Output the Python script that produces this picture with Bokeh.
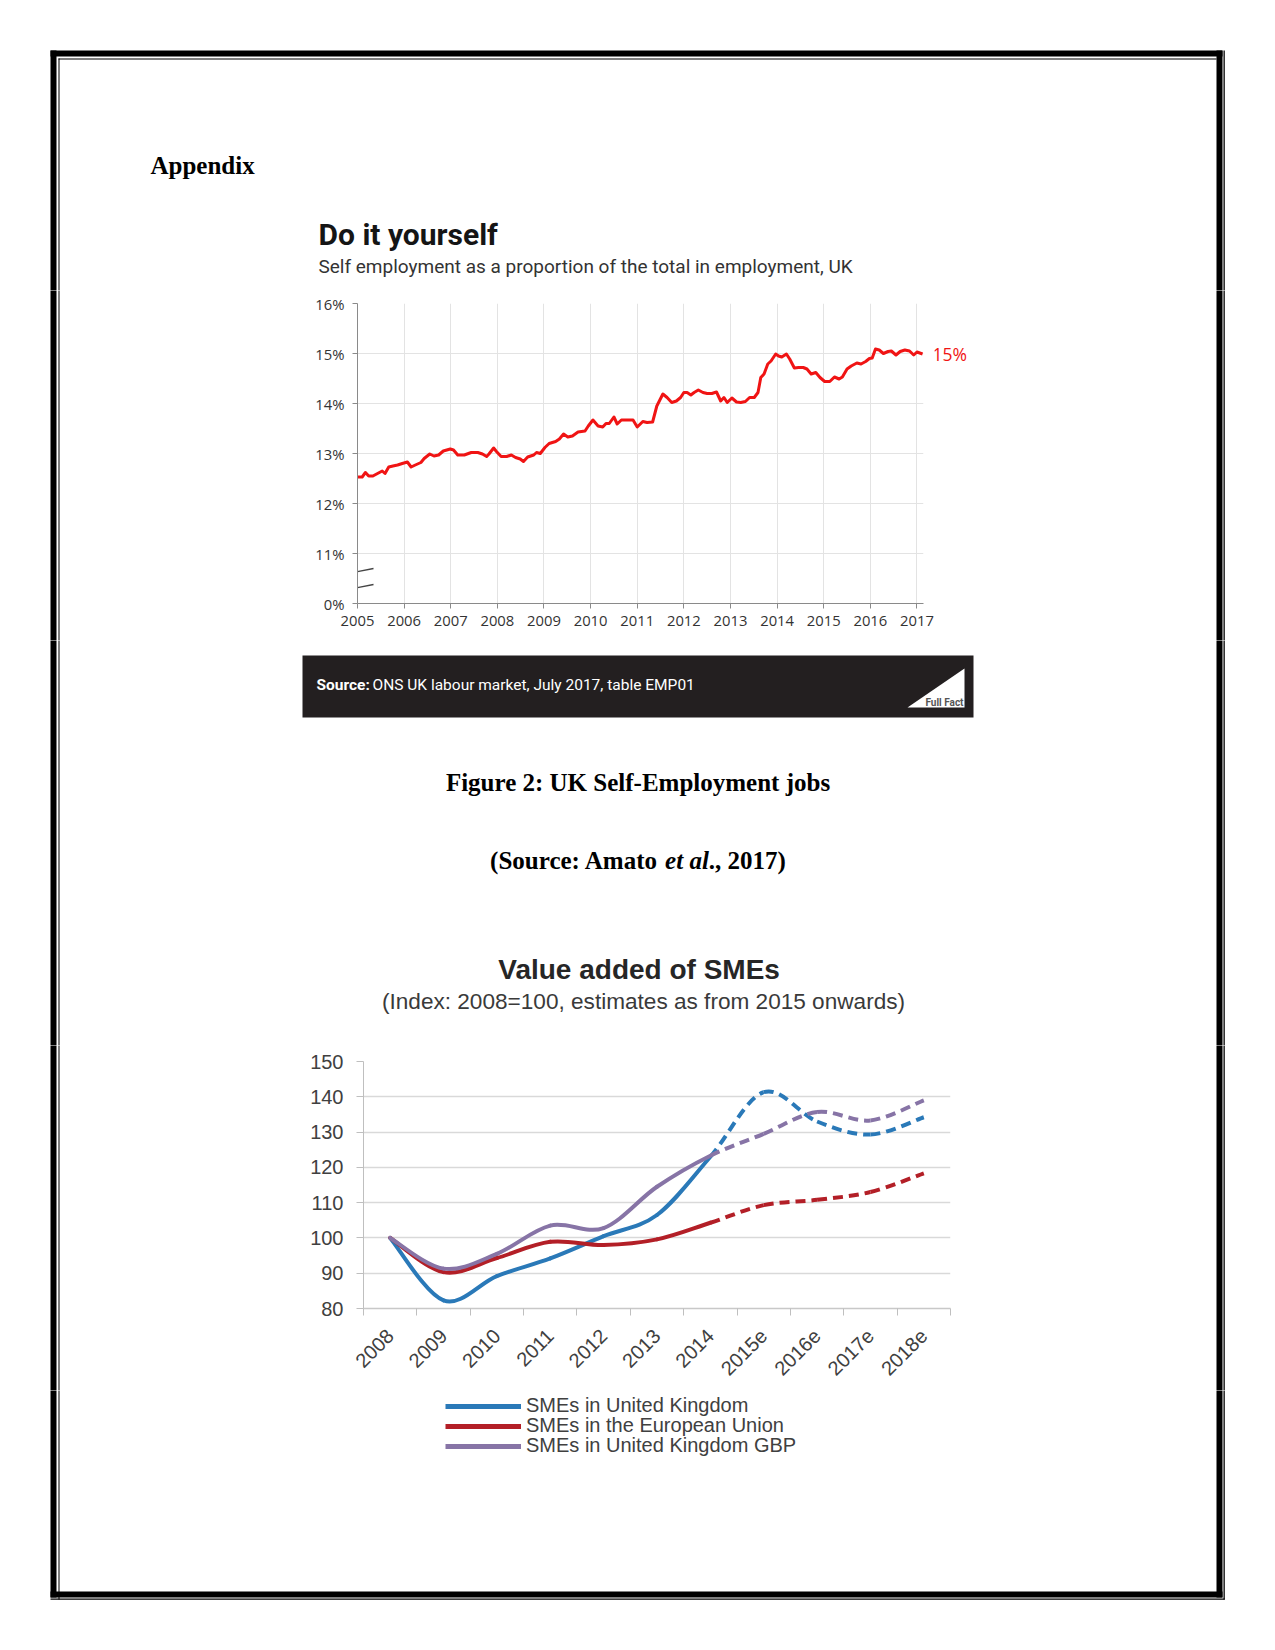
import math
from bokeh.plotting import figure
from bokeh.models import Range1d, FixedTicker, Legend, LegendItem
from bokeh.core.properties import value
from bokeh.layouts import column, row
from bokeh.embed import file_html
from bokeh.resources import INLINE

# ---------------- Chart 1 data: self employment share (%), UK ----------------
se_year = [2005.00, 2005.10, 2005.17, 2005.24, 2005.33, 2005.43, 2005.53, 2005.59, 2005.67, 2005.76,
           2005.86, 2005.96, 2006.07, 2006.15, 2006.24, 2006.36, 2006.43, 2006.55, 2006.64, 2006.74,
           2006.84, 2006.99, 2007.06, 2007.15, 2007.29, 2007.44, 2007.58, 2007.68, 2007.77, 2007.82,
           2007.92, 2007.98, 2008.08, 2008.20, 2008.30, 2008.39, 2008.49, 2008.56, 2008.65, 2008.78,
           2008.84, 2008.92, 2009.02, 2009.11, 2009.25, 2009.33, 2009.42, 2009.51, 2009.61, 2009.73,
           2009.88, 2009.95, 2010.05, 2010.16, 2010.26, 2010.33, 2010.40, 2010.50, 2010.57, 2010.66,
           2010.78, 2010.91, 2011.00, 2011.12, 2011.21, 2011.33, 2011.42, 2011.55, 2011.64, 2011.74,
           2011.84, 2011.93, 2012.00, 2012.07, 2012.15, 2012.22, 2012.31, 2012.41, 2012.50, 2012.60,
           2012.70, 2012.79, 2012.86, 2012.93, 2013.03, 2013.13, 2013.22, 2013.32, 2013.41, 2013.51,
           2013.59, 2013.65, 2013.72, 2013.80, 2013.87, 2013.97, 2014.03, 2014.10, 2014.20, 2014.27,
           2014.37, 2014.46, 2014.56, 2014.64, 2014.73, 2014.83, 2014.92, 2015.02, 2015.13, 2015.23,
           2015.33, 2015.40, 2015.50, 2015.59, 2015.71, 2015.80, 2015.90, 2015.98, 2016.04, 2016.11,
           2016.19, 2016.28, 2016.38, 2016.45, 2016.55, 2016.64, 2016.74, 2016.84, 2016.93, 2017.00,
           2017.12]
se_share = [12.53, 12.53, 12.62, 12.55, 12.55, 12.60, 12.65, 12.60, 12.73, 12.75,
            12.77, 12.80, 12.83, 12.73, 12.77, 12.82, 12.90, 12.99, 12.95, 12.97,
            13.05, 13.09, 13.07, 12.97, 12.97, 13.02, 13.02, 12.99, 12.94, 12.99,
            13.11, 13.04, 12.94, 12.94, 12.97, 12.92, 12.89, 12.84, 12.93, 12.97,
            13.02, 13.00, 13.12, 13.20, 13.24, 13.29, 13.39, 13.33, 13.35, 13.43,
            13.45, 13.55, 13.67, 13.55, 13.53, 13.60, 13.60, 13.73, 13.59, 13.67,
            13.67, 13.67, 13.53, 13.64, 13.62, 13.63, 13.95, 14.19, 14.12, 14.02,
            14.05, 14.12, 14.22, 14.22, 14.17, 14.22, 14.27, 14.22, 14.20, 14.20,
            14.23, 14.05, 14.12, 14.02, 14.11, 14.03, 14.02, 14.04, 14.12, 14.12,
            14.22, 14.52, 14.59, 14.79, 14.85, 14.99, 14.95, 14.93, 14.99, 14.89,
            14.71, 14.72, 14.72, 14.69, 14.59, 14.62, 14.52, 14.44, 14.44, 14.53,
            14.49, 14.53, 14.69, 14.75, 14.81, 14.79, 14.84, 14.90, 14.91, 15.09,
            15.07, 15.00, 15.04, 15.05, 14.97, 15.04, 15.07, 15.05, 14.97, 15.03,
            14.99]
c1_years = list(range(2005, 2018))
c1_pct_ticks = [10, 11, 12, 13, 14, 15, 16]
c1_pct_labels = ["0%", "11%", "12%", "13%", "14%", "15%", "16%"]

# ---------------- Chart 2 data: value added of SMEs (index 2008=100) ----------------
c2_categories = ["2008", "2009", "2010", "2011", "2012", "2013", "2014",
                 "2015e", "2016e", "2017e", "2018e"]
uk_index = [100, 82.3, 89.2, 94.2, 100.5, 106.5, 123.0, 141.3, 133.0, 129.3, 134.2]
eu_index = [100, 90.3, 94.3, 98.9, 98.0, 99.6, 104.3, 109.3, 110.8, 113.0, 118.3]
gbp_index = [100, 91.3, 95.5, 103.5, 102.8, 114.5, 123.3, 129.5, 135.7, 133.3, 139.0]
c2_series_names = ["SMEs in United Kingdom", "SMEs in the European Union",
                   "SMEs in United Kingdom GBP"]
c2_ticks = [80, 90, 100, 110, 120, 130, 140, 150]
c2_solid_last = 6   # 2014: last observed year, estimates after

# ---------------- page geometry helpers (page pixels) ----------------
X0, X1 = 2005, 2017.14          # chart 1 x range
NC = len(c2_categories)


def ident(v):
    return v


def c1x(px):
    return X0 + (px - 357) * (X1 - X0) / 566.0


def c1y(py):
    return 10 + (603 - py) * 6.0 / 300.0


BORDER = [(50, 50, 1222, 56), (50, 50, 56, 1597), (1216, 50, 1222, 1597), (50, 1591, 1222, 1597),
          (58, 58, 1216, 59), (58, 58, 59, 1599), (1223, 50, 1224.3, 1599), (50, 1598, 1224.3, 1599.2)]


def deco(px0, px1, py0, py1, xmap=ident, ymap=ident):
    p = figure(width=int(px1 - px0), height=int(py1 - py0),
               x_range=Range1d(xmap(px0), xmap(px1)), y_range=Range1d(ymap(py1), ymap(py0)),
               x_axis_type=None, y_axis_type=None, output_backend="svg", toolbar_location=None,
               min_border=0, min_border_left=0, min_border_right=0, min_border_top=0,
               min_border_bottom=0, frame_align=False)
    p.outline_line_color = None
    p.background_fill_color = "white"
    p.border_fill_color = "white"
    p.xgrid.visible = False
    p.ygrid.visible = False
    bl = [xmap(b[0]) for b in BORDER]
    bt = [ymap(b[1]) for b in BORDER]
    br = [xmap(b[2]) for b in BORDER]
    bb = [ymap(b[3]) for b in BORDER]
    p.quad(left=bl, right=br, top=bt, bottom=bb, fill_color="black", line_color=None)
    return p


def dtext(p, x, y, text, font, size, style="normal", color="black", align="left",
          baseline="alphabetic", x_offset=0):
    p.text(x=[x], y=[y], text=[text], text_font=value(font), text_font_size=value(size),
           text_font_style=value(style), text_color=color, text_align=value(align),
           text_baseline=value(baseline), x_offset=x_offset)


# ====================== top strip (page y 0..290) ======================
top = deco(0, 1267, 0, 290)
dtext(top, 150, 165, "Appendix", "Liberation Serif", "25px", "bold", baseline="middle")
dtext(top, 318, 233.5, "Do it yourself", "Roboto", "30px", "bold", "#151515", baseline="middle")
dtext(top, 318, 266, "Self employment as a proportion of the total in employment, UK",
      "Roboto", "19px", "normal", "#333333", baseline="middle")

# ====================== row 1: chart 1 (page y 290..640) ======================
left1 = deco(0, 300, 290, 640)
p1 = figure(width=634, height=350, x_range=Range1d(X0, X1), y_range=Range1d(10, 16),
            output_backend="svg", toolbar_location=None, frame_align=False,
            min_border_left=57, min_border_right=11, min_border_top=13, min_border_bottom=37)
p1.outline_line_color = None
p1.background_fill_color = "white"
p1.border_fill_color = "white"
xa = p1.xaxis[0]
xa.ticker = FixedTicker(ticks=c1_years)
xa.major_label_overrides = {y: str(y) for y in c1_years}
ya = p1.yaxis[0]
ya.ticker = FixedTicker(ticks=c1_pct_ticks)
ya.major_label_overrides = dict(zip(c1_pct_ticks, c1_pct_labels))
for ax in (xa, ya):
    ax.axis_line_color = "#8a8a8a"
    ax.major_tick_line_color = "#8a8a8a"
    ax.major_tick_out = 5
    ax.major_tick_in = 0
    ax.minor_tick_line_color = None
    ax.major_label_text_font = "Open Sans"
    ax.major_label_text_font_size = "14.8px"
    ax.major_label_text_color = "#333333"
xa.major_label_standoff = 7
ya.major_label_standoff = 8
p1.xgrid.ticker = FixedTicker(ticks=c1_years)
p1.ygrid.ticker = FixedTicker(ticks=c1_pct_ticks[1:])
p1.xgrid.grid_line_color = "#e3e3e3"
p1.ygrid.grid_line_color = "#e3e3e3"
p1.line(se_year, se_share, line_color="#f01414", line_width=3, line_join="round")
# axis break marks (part inside the plot area)
p1.segment(x0=[c1x(357), c1x(357)], y0=[c1y(571.2), c1y(587.2)],
           x1=[c1x(373), c1x(373)], y1=[c1y(568), c1y(584)], line_color="#444444", line_width=1.3)

right1 = deco(934, 1267, 290, 640, xmap=c1x, ymap=c1y)
dtext(right1, se_year[-1], se_share[-1], f"{round(se_share[-1])}%", "Open Sans", "17.5px",
      "normal", "#f01414", baseline="middle", x_offset=10)

# ====================== middle strip (page y 640..1045) ======================
mid = deco(0, 1267, 640, 1045)
mid.quad(left=[302], right=[973], top=[655], bottom=[717], fill_color="#231f20", line_color=None)
dtext(mid, 316, 684, "Source:", "Roboto", "15.5px", "bold", "white", baseline="middle")
dtext(mid, 372, 684, "ONS UK labour market, July 2017, table EMP01", "Roboto", "15.5px",
      "normal", "white", baseline="middle")
mid.patch(x=[907, 964, 964], y=[707, 707, 668], fill_color="white", line_color=None)
dtext(mid, 963, 702, "Full Fact", "Roboto", "10px", "bold", "#555555", align="right",
      baseline="middle")
dtext(mid, 637.5, 782, "Figure 2: UK Self-Employment jobs", "Liberation Serif", "25px",
      "bold", align="center", baseline="middle")
cap_x = 489.6
dtext(mid, cap_x, 860, "(Source: Amato ", "Liberation Serif", "25px", "bold", baseline="middle")
dtext(mid, cap_x + 7.0 * 25, 860, "et al", "Liberation Serif", "25px", "bold italic",
      baseline="middle")
dtext(mid, cap_x + 8.75 * 25, 860, "., 2017)", "Liberation Serif", "25px", "bold",
      baseline="middle")
dtext(mid, 638.6, 969, "Value added of SMEs", "Liberation Sans", "28px", "bold", "#262626",
      align="center", baseline="middle")
dtext(mid, 643, 1000.5, "(Index: 2008=100, estimates as from 2015 onwards)",
      "Liberation Sans", "22.6px", "normal", "#3a3a3a", align="center", baseline="middle")

# ====================== row 2: chart 2 (page y 1045..1390) ======================
left2 = deco(0, 300, 1045, 1390)
p2 = figure(width=665, height=345, x_range=Range1d(-0.5, NC - 0.5), y_range=Range1d(80, 150),
            output_backend="svg", toolbar_location=None, frame_align=False,
            min_border_left=63, min_border_right=15, min_border_top=16, min_border_bottom=82)
p2.outline_line_color = None
p2.background_fill_color = "white"
p2.border_fill_color = "white"
cx = list(range(NC))
xb = p2.xaxis[0]
xb.ticker = FixedTicker(ticks=cx, minor_ticks=[i - 0.5 for i in range(NC + 1)])
xb.major_label_overrides = dict(zip(cx, c2_categories))
xb.major_label_orientation = math.pi / 4
xb.major_tick_out = 0
xb.major_tick_in = 0
xb.minor_tick_out = 7
xb.minor_tick_in = 0
xb.minor_tick_line_color = "#bfbfbf"
xb.axis_line_color = "#c8c8c8"
xb.axis_line_width = 1.3
xb.major_label_standoff = 17
yb = p2.yaxis[0]
yb.ticker = FixedTicker(ticks=c2_ticks)
yb.major_label_overrides = {t: str(t) for t in c2_ticks}
yb.axis_line_color = "#bfbfbf"
yb.major_tick_line_color = "#bfbfbf"
yb.major_tick_out = 7
yb.major_tick_in = 0
yb.minor_tick_line_color = None
yb.major_label_standoff = 13
for ax in (xb, yb):
    ax.major_label_text_font = "Liberation Sans"
    ax.major_label_text_font_size = "20px"
    ax.major_label_text_color = "#404040"
p2.xgrid.grid_line_color = None
p2.ygrid.ticker = FixedTicker(ticks=c2_ticks)
p2.ygrid.grid_line_color = "#d9d9d9"
p2.ygrid.grid_line_width = 1.4


def smooth(xs, ys):
    n = len(xs)
    seg = {k: [] for k in ("x0", "y0", "x1", "y1", "cx0", "cy0", "cx1", "cy1")}
    for i in range(n - 1):
        xm, ym = (xs[i - 1], ys[i - 1]) if i > 0 else (xs[i], ys[i])
        xp, yp = (xs[i + 2], ys[i + 2]) if i + 2 < n else (xs[i + 1], ys[i + 1])
        seg["x0"].append(xs[i]); seg["y0"].append(ys[i])
        seg["x1"].append(xs[i + 1]); seg["y1"].append(ys[i + 1])
        seg["cx0"].append(xs[i] + (xs[i + 1] - xm) / 6.0)
        seg["cy0"].append(ys[i] + (ys[i + 1] - ym) / 6.0)
        seg["cx1"].append(xs[i + 1] - (xp - xs[i]) / 6.0)
        seg["cy1"].append(ys[i + 1] - (yp - ys[i]) / 6.0)
    return seg


colors = ["#2a79b8", "#b31f27", "#8774a6"]
all_series = [uk_index, eu_index, gbp_index]
for vals, col in zip(all_series, colors):
    seg = smooth(cx, vals)
    solid = {k: v[:c2_solid_last] for k, v in seg.items()}
    dashed = {k: v[c2_solid_last:] for k, v in seg.items()}
    p2.bezier(line_color=col, line_width=4, line_cap="round", **solid)
    p2.bezier(line_color=col, line_width=4, line_dash="10 6", **dashed)

right2 = deco(965, 1267, 1045, 1390)

# ====================== legend strip + bottom (page y 1390..1640) ======================
bottom = deco(0, 1267, 1390, 1640)
row_centers = [1405.5, 1425.5, 1445.5]
for name, vals, col, rc in zip(c2_series_names, all_series, colors, row_centers):
    # legend key for the chart above (series values sit outside this strip's visible area)
    r = bottom.line(x=cx, y=vals, line_color=col, line_width=5)
    leg = Legend(items=[LegendItem(label=name, renderers=[r])],
                 location=(445, 1640 - rc - 11.5), padding=0, margin=0, spacing=0,
                 glyph_width=76, glyph_height=22, label_height=22, label_standoff=5,
                 label_text_font="Liberation Sans", label_text_font_size="20px",
                 label_text_color="#404040", border_line_color=None, background_fill_alpha=0)
    bottom.add_layout(leg, "center")

layout = column(top, row(left1, p1, right1), mid, row(left2, p2, right2), bottom)
open("out.html", "w").write(file_html(layout, INLINE))
